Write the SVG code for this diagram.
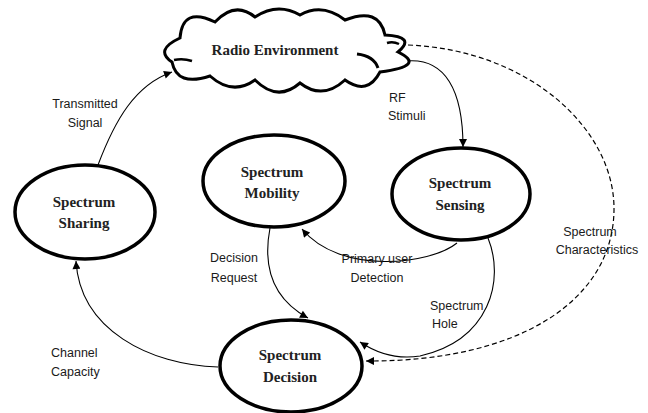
<svg xmlns="http://www.w3.org/2000/svg" width="648" height="413" viewBox="0 0 648 413">
<defs>
<style>
.node{fill:#fff;stroke:#000;stroke-width:3.5}
.nt{font-family:"Liberation Serif",serif;font-weight:bold;font-size:15px;fill:#222;text-anchor:middle}
.lb{font-family:"Liberation Sans",sans-serif;font-size:12.5px;fill:#1a1a1a}
.c{fill:none;stroke:#000;stroke-width:1.1}
.d{fill:none;stroke:#000;stroke-width:1.2;stroke-dasharray:5,3}
</style>
<marker id="ah" viewBox="0 0 10 10" refX="10" refY="5" markerWidth="9" markerHeight="8" markerUnits="userSpaceOnUse" orient="auto">
<path d="M0,0 L10,5 L0,10 z" fill="#000"/>
</marker>
</defs>
<rect width="648" height="413" fill="#fff"/>
<g id="connectors">
<path class="c" d="M98,165 C115,120 135,85 172,72" marker-end="url(#ah)"/>
<path class="c" d="M407,61 C445,58 463,90 463,147" marker-end="url(#ah)"/>
<path class="d" d="M408,45 C530,50 615,130 614,210 C613,300 520,362 366,361" marker-end="url(#ah)"/>
<path class="c" d="M457,243 C430,265 340,275 302,229" marker-end="url(#ah)"/>
<path class="c" d="M270,228 C262,270 275,300 308,318" marker-end="url(#ah)"/>
<path class="c" d="M488,238 C505,280 490,340 420,356 C395,360 375,352 360,342" marker-end="url(#ah)"/>
<path class="c" d="M218,367 C150,365 80,330 76,261" marker-end="url(#ah)"/>
</g>
<g id="radio-environment">
<path d="M172,62 Q154,50 180,38 Q182.5,6 215,22 Q235,0.5 255,17 Q277.5,2 300,15 Q322.5,2.5 345,20 Q379,6.5 385,35 Q416.5,36.5 398,52 Q427,66 380,72 Q367.5,96 345,80 Q322.5,100.5 300,83 Q277.5,102.5 255,80 Q232.5,96 210,76 Q177,87 172,62 Z" fill="#fff" stroke="#000" stroke-width="3"/>
<path d="M357,54 Q374,56 378,68" fill="none" stroke="#000" stroke-width="3"/>
<path d="M174,60 Q183,58 192,61" fill="none" stroke="#000" stroke-width="2.5"/>
<path d="M387,43 Q393,41 399,44" fill="none" stroke="#000" stroke-width="2.5"/>
<text class="nt" x="275" y="55">Radio Environment</text>
</g>
<g id="spectrum-sharing">
<ellipse class="node" cx="85" cy="212" rx="70" ry="47"/>
<text class="nt" x="84" y="207">Spectrum</text>
<text class="nt" x="84" y="228">Sharing</text>
</g>
<g id="spectrum-mobility">
<ellipse class="node" cx="274" cy="181" rx="71" ry="46"/>
<text class="nt" x="272" y="177">Spectrum</text>
<text class="nt" x="272" y="198">Mobility</text>
</g>
<g id="spectrum-sensing">
<ellipse class="node" cx="461" cy="194" rx="69" ry="46"/>
<text class="nt" x="460" y="188">Spectrum</text>
<text class="nt" x="460" y="210">Sensing</text>
</g>
<g id="spectrum-decision">
<ellipse class="node" cx="291" cy="366" rx="71" ry="46"/>
<text class="nt" x="290" y="360">Spectrum</text>
<text class="nt" x="290" y="382">Decision</text>
</g>
<g id="labels">
<text class="lb" x="85" y="107.5" text-anchor="middle">Transmitted</text>
<text class="lb" x="85" y="126.5" text-anchor="middle">Signal</text>
<text class="lb" x="389" y="101.5">RF</text>
<text class="lb" x="388" y="119.5">Stimuli</text>
<text class="lb" x="590" y="235.5" text-anchor="middle">Spectrum</text>
<text class="lb" x="597" y="253.5" text-anchor="middle">Characteristics</text>
<text class="lb" x="377" y="262.5" text-anchor="middle">Primary user</text>
<text class="lb" x="377" y="281.5" text-anchor="middle">Detection</text>
<text class="lb" x="234" y="261.5" text-anchor="middle">Decision</text>
<text class="lb" x="234" y="281.5" text-anchor="middle">Request</text>
<text class="lb" x="430" y="309.5">Spectrum</text>
<text class="lb" x="432" y="327.5">Hole</text>
<text class="lb" x="51" y="356.5">Channel</text>
<text class="lb" x="51" y="375.5">Capacity</text>
</g>
</svg>
